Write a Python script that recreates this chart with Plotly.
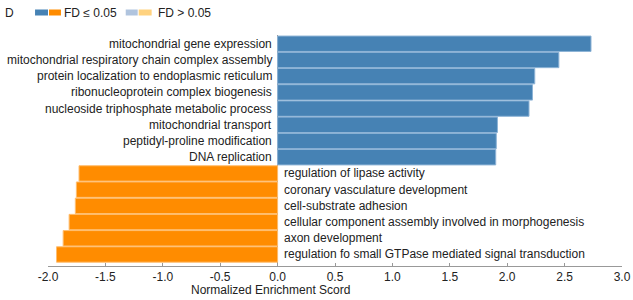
import plotly.graph_objects as go

up_terms = ["mitochondrial gene expression",
            "mitochondrial respiratory chain complex assembly",
            "protein localization to endoplasmic reticulum",
            "ribonucleoprotein complex biogenesis",
            "nucleoside triphosphate metabolic process",
            "mitochondrial transport",
            "peptidyl-proline modification",
            "DNA replication"]
up_nes = [2.73, 2.45, 2.24, 2.22, 2.19, 1.915, 1.905, 1.90]

down_terms = ["regulation of lipase activity",
              "coronary vasculature development",
              "cell-substrate adhesion",
              "cellular component assembly involved in morphogenesis",
              "axon development",
              "regulation fo small GTPase mediated signal transduction"]
down_nes = [-1.73, -1.753, -1.762, -1.816, -1.868, -1.926]

x_ticks = [-2.0, -1.5, -1.0, -0.5, 0.0, 0.5, 1.0, 1.5, 2.0, 2.5, 3.0]
x_ticktext = ["-2.0", "-1.5", "-1.0", "-0.5", "0.0", "0.5", "1.0", "1.5", "2.0", "2.5", "3.0"]

BLUE = "#4682b4"
ORANGE = "#ff8c00"
LBLUE = "#b0c4de"
LORANGE = "#ffd27f"
FONT = "Liberation Sans, Arial, sans-serif"

all_terms = up_terms + down_terms

fig = go.Figure()
fig.add_trace(go.Bar(y=up_terms, x=up_nes, orientation="h",
                     marker=dict(color=BLUE, line=dict(color="#8db3d6", width=1)),
                     hoverinfo="x+y"))
fig.add_trace(go.Bar(y=down_terms, x=down_nes, orientation="h",
                     marker=dict(color=ORANGE, line=dict(color="#ffbe70", width=1)),
                     hoverinfo="x+y"))

# the capture maps a slightly wider page onto 633 px; compensate horizontally
K = 641 / 633
W, H = 641, 300
L, R, T, B = 47 * K, 10 * K, 35, 34
pw, ph = W - L - R, H - T - B

def px(x):
    return (x * K - L) / pw

def py(y):
    return (H - B - y) / ph

annotations = []
for t in up_terms:
    annotations.append(dict(x=0, y=t, xref="x", yref="y", text=t, showarrow=False,
                            xanchor="right", xshift=-4 * K, font=dict(size=12, color="#222")))
for t in down_terms:
    annotations.append(dict(x=0, y=t, xref="x", yref="y", text=t, showarrow=False,
                            xanchor="left", xshift=4 * K, font=dict(size=12, color="#222")))

annotations.append(dict(x=0, y=py(290), xref="x", yref="paper", text="Normalized Enrichment Scord",
                        showarrow=False, xanchor="center", yanchor="middle", xshift=-7 * K,
                        font=dict(size=12, color="#222")))
annotations.append(dict(x=px(2), y=py(13), xref="paper", yref="paper", text="D", showarrow=False,
                        xanchor="left", yanchor="middle", font=dict(size=12, color="#222")))
annotations.append(dict(x=px(61), y=py(12.5), xref="paper", yref="paper", text="FD ≤ 0.05", showarrow=False,
                        xanchor="left", yanchor="middle", font=dict(size=12, color="#222")))
annotations.append(dict(x=px(155), y=py(12.5), xref="paper", yref="paper", text="FD > 0.05", showarrow=False,
                        xanchor="left", yanchor="middle", font=dict(size=12, color="#222")))

shapes = []
for (x0, x1, c) in [(34, 47, BLUE), (48, 60, ORANGE), (125, 137, LBLUE), (138, 151, LORANGE)]:
    shapes.append(dict(type="rect", xref="paper", yref="paper", x0=px(x0), x1=px(x1),
                       y0=py(15.5), y1=py(9.5), fillcolor=c, line=dict(width=0)))

fig.update_layout(
    width=W, height=H,
    margin=dict(l=L, r=R, t=T, b=B),
    plot_bgcolor="white", paper_bgcolor="white",
    showlegend=False, bargap=0.05, barmode="overlay",
    font=dict(family=FONT, size=12, color="#222"),
    annotations=annotations, shapes=shapes,
    xaxis=dict(range=[-2, 3], tickvals=x_ticks, ticktext=x_ticktext,
               showgrid=False, zeroline=True, zerolinecolor="#999", zerolinewidth=1,
               showline=True, linecolor="#999", linewidth=1,
               ticks="inside", ticklen=3, tickcolor="#999",
               tickfont=dict(size=12, color="#222")),
    yaxis=dict(type="category", categoryorder="array", categoryarray=all_terms[::-1],
               range=[-0.71, 13.54], showticklabels=False, showgrid=False,
               zeroline=False, showline=False, ticks=""),
)

fig.write_html("out.html", config={"displayModeBar": False},
               post_script="document.body.style.margin='0';document.body.style.overflow='hidden';")
